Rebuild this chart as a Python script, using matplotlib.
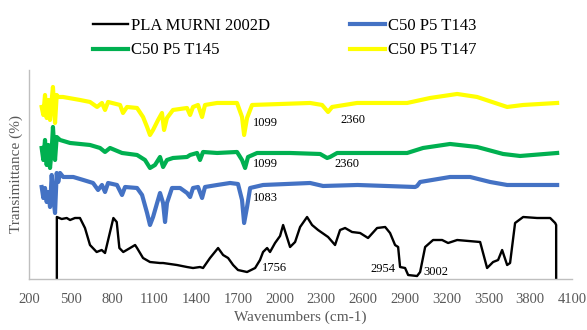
import matplotlib
matplotlib.use("Agg")
import matplotlib.pyplot as plt

plt.rcParams['font.family'] = ['Liberation Serif', 'DejaVu Serif']

# FTIR spectra, wavenumber (cm-1) vs stacked transmittance
wn_pla = [400, 400, 435, 471, 495, 530, 566, 602, 638, 686, 722, 746, 782, 806, 830, 849,
          877, 926, 962, 976, 1019, 1069, 1141, 1163, 1263, 1335, 1378, 1428, 1450, 1500,
          1558, 1594, 1630, 1666, 1701, 1766, 1824, 1859, 1881, 1910, 1931, 1967, 2003,
          2025, 2075, 2111, 2147, 2197, 2233, 2276, 2348, 2398, 2434, 2470, 2520, 2578,
          2635, 2700, 2758, 2793, 2829, 2851, 2865, 2901, 2923, 2987, 3009, 3045, 3102,
          3167, 3210, 3275, 3440, 3490, 3533, 3569, 3598, 3634, 3655, 3691, 3749, 3849,
          3943, 3979, 3986, 3986]
t_pla = [0, 31, 30, 30.5, 29.5, 30.5, 30.5, 25.5, 17, 13.5, 14.5, 13, 23.5, 30.5, 28.5, 15.5,
         13.5, 15.5, 17, 15.5, 10.5, 8.5, 8, 8, 7, 6, 5.5, 6, 5.5, 10.5,
         15.5, 12, 10.5, 7, 4.5, 3.5, 5.5, 9.5, 13.5, 15.5, 13.5, 18, 21.5,
         27, 16, 18.5, 26, 31, 27, 24.5, 21, 17, 24.5, 25.5, 23.5, 23,
         20.5, 25.5, 26, 23, 17, 16, 6, 5.5, 2, 1.5, 3.5, 16, 19.5,
         19.5, 18, 19.5, 18.5, 5.5, 8.5, 9.5, 14.5, 7, 8, 28, 31, 30.5,
         30.5, 28, 27, 0]

wn_t143 = [291, 303, 315, 327, 339, 351, 363, 375, 387, 399, 410, 423, 446, 518, 590, 660,
           696, 724, 746, 768, 832, 868, 890, 976, 1012, 1048, 1069, 1091, 1120, 1141, 1163,
           1177, 1191, 1227, 1285, 1335, 1357, 1378, 1414, 1443, 1464, 1551, 1644, 1701,
           1730, 1745, 1766, 1788, 1881, 2219, 2312, 2560, 2973, 2987, 3009, 3224, 3368,
           3512, 3634, 3800, 3993]
t_t143 = [46, 40.5, 45.5, 38.5, 43.5, 36, 52, 40.5, 33, 53, 48.5, 53, 51, 51, 49.5, 48,
          44.5, 47, 43.5, 48, 47, 42, 46, 45.5, 42, 33, 27, 31, 38, 43, 38,
          28.5, 38, 45.5, 45.5, 43, 41, 45.5, 46, 40.5, 46, 47, 48, 47.5,
          39.5, 28, 36, 45.5, 47, 48, 46.5, 47, 46, 46.5, 48.5, 51, 51,
          48.5, 47, 47, 47]

wn_t145 = [291, 303, 315, 327, 339, 351, 363, 372, 387, 399, 423, 495, 638, 710, 746, 782,
           868, 976, 1033, 1069, 1105, 1141, 1163, 1191, 1234, 1335, 1357, 1407, 1428, 1450,
           1551, 1694, 1730, 1752, 1773, 1838, 2075, 2291, 2341, 2362, 2413, 2916, 3030,
           3224, 3418, 3605, 3727, 3993]
t_t145 = [65.5, 59.5, 69.5, 57, 67, 55.5, 64.5, 76, 59.5, 71, 69.5, 68, 67, 65.5, 63.5, 65.5,
          63, 62, 59.5, 55.5, 57, 61, 56, 59.5, 60.5, 61, 62, 63, 59.5, 63.5,
          63, 63.5, 59.5, 55.5, 61, 63, 63, 62.5, 60.5, 61, 63, 63, 65.5,
          67.5, 66, 62.5, 61.5, 63]

wn_t147 = [291, 303, 315, 327, 339, 351, 363, 372, 387, 399, 408, 444, 566, 638, 689, 724,
           746, 768, 854, 875, 904, 976, 1019, 1048, 1069, 1091, 1127, 1155, 1170, 1191,
           1234, 1335, 1357, 1378, 1414, 1443, 1464, 1551, 1694, 1730, 1745, 1766, 1802,
           2219, 2305, 2348, 2377, 2556, 2916, 3081, 3275, 3418, 3634, 3749, 3993]
t_t147 = [86, 82, 92, 80.5, 89.5, 79.5, 89.5, 96, 78, 92, 91, 91, 89.5, 88.5, 86, 88,
          84.5, 88.5, 87, 83, 86, 85.5, 81, 76, 72, 74.5, 79.5, 83, 74.5, 80.5,
          84.5, 85.5, 82, 86, 87, 81, 87, 88, 88, 81, 72, 80.5, 87,
          88, 87, 83.5, 86, 88, 88, 90.5, 92.5, 91, 86, 87, 88]

peak_text = ["1099", "2360", "1099", "2360", "1083", "1756", "2954", "3002"]
peak_x = [1809, 2434, 1809, 2391, 1807, 1874, 2650, 3030]
peak_y = [78, 79.5, 57.5, 57.5, 40.5, 5.5, 5, 3.5]

fig = plt.figure(figsize=(5.87, 3.30), dpi=100)
ax = fig.add_axes([0.0494, 0.1545, 0.9251, 0.6335])

ax.plot(wn_pla, t_pla, color="black", lw=1.7, label="PLA MURNI 2002D")
ax.plot(wn_t143, t_t143, color="#4472C4", lw=3, label="C50 P5 T143")
ax.plot(wn_t145, t_t145, color="#00B050", lw=3, label="C50 P5 T145")
ax.plot(wn_t147, t_t147, color="#FFFF00", lw=3, label="C50 P5 T147")

for s, x, y in zip(peak_text, peak_x, peak_y):
    ax.text(x, y, s, fontsize=9, ha="left", va="center", color="black")

ax.set_xlim(200, 4100)
ax.set_ylim(0, 104.5)
ax.set_xticks(range(200, 4101, 300))
ax.set_yticks([])
ax.tick_params(axis="x", length=0, pad=10, labelsize=10.5, labelcolor="#595959")
for side in ["top", "right"]:
    ax.spines[side].set_visible(False)
for side in ["left", "bottom"]:
    ax.spines[side].set_color("#BFBFBF")
    ax.spines[side].set_linewidth(1)

ax.set_xlabel("Wavenumbers (cm-1)", fontsize=11, color="#595959", labelpad=3)
ax.set_ylabel("Transimittance (%)", fontsize=11, color="#595959", labelpad=4)

# legend order: row-wise black/blue then green/yellow
h, l = ax.get_legend_handles_labels()
order = [0, 2, 1, 3]
fig.legend([h[i] for i in order], [l[i] for i in order], ncol=2, frameon=False,
           loc="upper left", bbox_to_anchor=(0.158, 0.945), fontsize=12,
           borderpad=0, borderaxespad=0,
           handlelength=2.1, handletextpad=0.2, columnspacing=4.8, labelspacing=0.5)

fig.savefig("out.png", dpi=100)
